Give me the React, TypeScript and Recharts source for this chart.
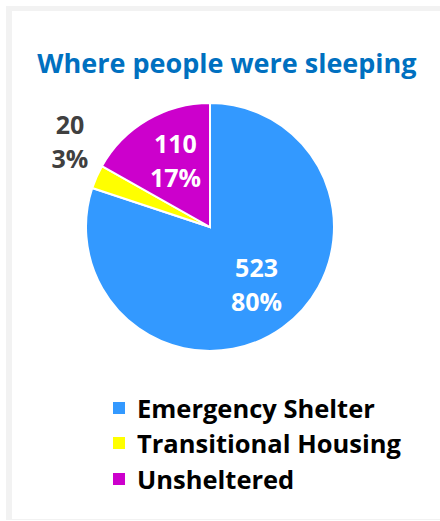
import React from "react";
import { PieChart, Pie, Cell, Legend } from "recharts";

// where people were sleeping, counts by shelter type
const categories = ["Emergency Shelter", "Transitional Housing", "Unsheltered"];
const counts = [523, 20, 110];
const sliceColors = ["#3399FF", "#FFFF00", "#CC00CC"];
const labelColors = ["#FFFFFF", "#404040", "#FFFFFF"];

const data = categories.map((name, i) => ({ name, value: counts[i] }));

const FONT = "'Open Sans', sans-serif";
const RADIAN = Math.PI / 180;

function renderLabel(props: any) {
  const { cx, cy, midAngle, outerRadius, percent, value, index } = props;
  const outside = percent < 0.05;
  const r = outside ? outerRadius + 40 : outerRadius * 0.6;
  // small slices get their label pushed up and out like the original
  const x = cx + r * Math.cos(-midAngle * RADIAN) + (outside ? 10 : 3);
  const y = cy + r * Math.sin(-midAngle * RADIAN) + (outside ? -19 : -2);
  return (
    <text
      x={x}
      y={y}
      textAnchor="middle"
      fill={labelColors[index]}
      style={{ fontFamily: FONT, fontWeight: 700, fontSize: 25 }}
    >
      <tspan x={x} y={y - 8}>{value}</tspan>
      <tspan x={x} y={y + 26}>{`${Math.round(percent * 100)}%`}</tspan>
    </text>
  );
}

function LegendContent({ payload }: any) {
  return (
    <div>
      {(payload || []).map((entry: any) => (
        <div key={entry.value} style={styles.legendRow}>
          <span style={{ ...styles.swatch, background: entry.color }} />
          <span style={styles.legendText}>{entry.value}</span>
        </div>
      ))}
    </div>
  );
}

export default function App() {
  return (
    <div style={styles.page}>
      <div style={styles.frame} />
      <svg width={440} height={100} style={styles.titleSvg}>
        <text
          x={227}
          y={73}
          textAnchor="middle"
          fill="#0070C0"
          style={{ fontFamily: FONT, fontWeight: 700, fontSize: 27 }}
        >
          Where people were sleeping
        </text>
      </svg>
      <div style={styles.chart}>
        <PieChart width={440} height={521} margin={{ top: 0, right: 0, bottom: 0, left: 0 }}>
          <Pie
            data={data}
            dataKey="value"
            nameKey="name"
            cx={210}
            cy={227}
            outerRadius={124}
            startAngle={90}
            endAngle={-270}
            stroke="#FFFFFF"
            strokeWidth={2}
            label={renderLabel}
            labelLine={false}
            isAnimationActive={false}
          >
            {data.map((d, i) => (
              <Cell key={d.name} fill={sliceColors[i]} />
            ))}
          </Pie>
          <Legend
            layout="horizontal"
            verticalAlign="bottom"
            align="left"
            content={<LegendContent />}
            wrapperStyle={{ position: "absolute", left: 113, top: 390, bottom: "auto", width: 320 }}
          />
        </PieChart>
      </div>
    </div>
  );
}

const styles: Record<string, React.CSSProperties> = {
  page: {
    position: "absolute",
    left: 0,
    top: 0,
    width: 440,
    height: 521,
    background: "#FFFFFF",
    overflow: "hidden",
  },
  frame: {
    position: "absolute",
    left: 6,
    top: 6,
    width: 434,
    height: 514,
    boxSizing: "border-box",
    borderLeft: "6px solid #F2F2F2",
    borderTop: "5px solid #F2F2F2",
    borderBottom: "1px solid #F2F2F2",
  },
  titleSvg: { position: "absolute", left: 0, top: 0 },
  chart: { position: "absolute", left: 0, top: 0 },
  legendRow: {
    display: "flex",
    alignItems: "center",
    height: 35.5,
  },
  swatch: {
    display: "inline-block",
    width: 12,
    height: 12,
    marginRight: 12,
  },
  legendText: {
    fontFamily: FONT,
    fontWeight: 700,
    fontSize: 25.5,
    color: "#000000",
    whiteSpace: "nowrap",
  },
};
